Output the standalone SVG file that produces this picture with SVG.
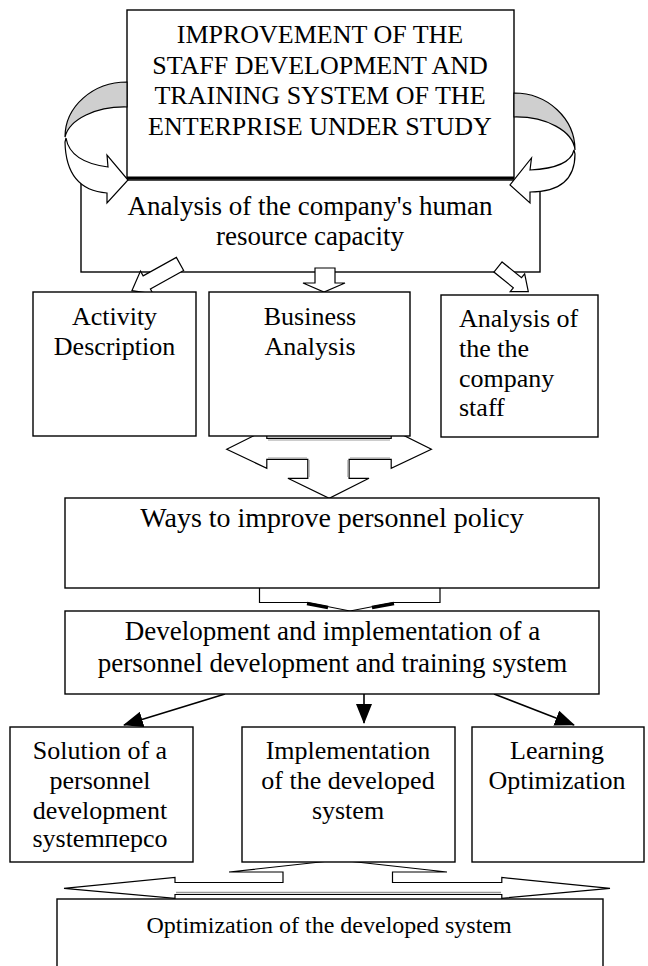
<svg xmlns="http://www.w3.org/2000/svg" width="648" height="966" viewBox="0 0 648 966">
<defs>
<style>
.box{fill:#fff;stroke:#000;stroke-width:1.4}
.t{font-family:"Liberation Serif","Times New Roman",serif;fill:#000;text-anchor:middle}
.tl{font-family:"Liberation Serif","Times New Roman",serif;fill:#000;text-anchor:start}
.blk{fill:#fff;stroke:#000;stroke-width:1.2;stroke-linejoin:miter}
.gray{fill:#cfcfcf;stroke:#000;stroke-width:1.2}
.ln{stroke:#000;stroke-width:1.6;fill:none}
</style>
<marker id="ahb" viewBox="0 0 20 16" refX="19" refY="8" markerWidth="20" markerHeight="16" markerUnits="userSpaceOnUse" orient="auto">
<path d="M0,0 L20,8 L0,16 Z" fill="#000"/>
</marker>
</defs>

<g id="analysis">
<rect class="box" x="81" y="180" width="459" height="92"/>
<text class="t" font-size="27" x="310" y="215">Analysis of the company's human</text>
<text class="t" font-size="27" x="310" y="245">resource capacity</text>
</g>

<g id="top">
<rect class="box" x="127" y="10" width="387" height="168"/>
<line x1="127" y1="178" x2="514" y2="178" stroke="#000" stroke-width="3"/>
<text class="t" font-size="26" x="320" y="43">IMPROVEMENT OF THE</text>
<text class="t" font-size="26" x="320" y="74">STAFF DEVELOPMENT AND</text>
<text class="t" font-size="26" x="320" y="104">TRAINING SYSTEM OF THE</text>
<text class="t" font-size="26" x="320" y="135">ENTERPRISE UNDER STUDY</text>
</g>

<g id="connectors">
<!-- left curved arrow -->
<path class="gray" d="M127,82 A62,55 0 0 0 65,137 A60,35 0 0 1 127,107 Z"/>
<path class="blk" d="M66,138 Q70,162 108,167 L107,155 L128,180 L107,203 L107,193 Q66,190 65,142 Z"/>
<!-- right curved arrow -->
<path class="gray" d="M514,93 A61,57 0 0 1 575,150 A59,35 0 0 0 514,117 Z"/>
<path class="blk" d="M574,150 Q570,168 530,170 L531.5,158 L510,185 L530,203 L530,192 Q575,192 575,154 Z"/>

<!-- analysis to row 1 block arrows -->
<g transform="translate(180,264) rotate(151)">
<path class="blk" d="M0,-7.5 L38,-7.5 L38,-13 L55,0 L38,13 L38,7.5 L0,7.5 Z"/>
</g>
<path class="blk" d="M315,268 L335,268 L335,283 L345,283 L324,292 L303,283 L315,283 Z"/>
<g transform="translate(498,267) rotate(39)">
<path class="blk" d="M0,-6.5 L25,-6.5 L25,-11.5 L39,0 L25,11.5 L25,6.5 L0,6.5 Z"/>
</g>

<!-- row 1 to ways compound arrow -->
<path class="blk" d="M226.7,449.3 L266.8,429.3 L266.8,438.3 L391.2,438.3 L391.2,429.3 L431.4,449.3 L391.2,468.3 L391.2,459.3 L349.1,459.3 L349.1,478.3 L369,478.3 L329.2,498.3 L287.9,478.3 L307.8,478.3 L307.8,459.3 L266.8,459.3 L266.8,468.3 Z"/>
<path d="M268,440 L390,440 M268,458 L307,458 M350,458 L390,458 M309,460 L309,477 M348,460 L348,477" stroke="#999" stroke-width="1.2" fill="none"/>

<!-- ways to development arrow -->
<path class="blk" d="M259.5,587 L259.5,602.5 L307,602.5 L350,611 L394,602.5 L440,602.5 L440,587"/>
<path d="M307,603.5 L328,607.5 M372,607.5 L394,603.5" stroke="#000" stroke-width="3.5" fill="none"/>

<!-- development to row 2 arrows -->
<line class="ln" x1="225" y1="694" x2="124" y2="725" marker-end="url(#ahb)"/>
<line class="ln" x1="364" y1="694" x2="364" y2="723" marker-end="url(#ahb)"/>
<line class="ln" x1="494" y1="694" x2="574" y2="725" marker-end="url(#ahb)"/>

<!-- bottom compound arrow -->
<path class="blk" d="M338.5,860 L447,872 L392.5,872 L392.5,882.5 L501.8,882.5 L501.8,877.5 L610,888.3 L501.8,898.3 L501.8,894.5 L175,894.5 L175,898.3 L64,888.3 L175,877.5 L175,882.5 L283,882.5 L283,872 L229,872 Z"/>
<line x1="176" y1="892.5" x2="501" y2="892.5" stroke="#999" stroke-width="1.5"/>
</g>

<g id="activity">
<rect class="box" x="33" y="292" width="163" height="144"/>
<text class="t" font-size="26" x="114.5" y="325">Activity</text>
<text class="t" font-size="26" x="114.5" y="355">Description</text>
</g>
<g id="business">
<rect class="box" x="209" y="292" width="201" height="144"/>
<text class="t" font-size="26" x="310" y="325">Business</text>
<text class="t" font-size="26" x="310" y="355">Analysis</text>
</g>
<g id="staff">
<rect class="box" x="441" y="295" width="157" height="142"/>
<text class="tl" font-size="26" x="459" y="327">Analysis of</text>
<text class="tl" font-size="26" x="459" y="357">the the</text>
<text class="tl" font-size="26" x="459" y="387">company</text>
<text class="tl" font-size="26" x="459" y="416">staff</text>
</g>

<g id="ways">
<rect class="box" x="65" y="498" width="534" height="90"/>
<text class="t" font-size="28" x="332" y="527">Ways to improve personnel policy</text>
</g>

<g id="development">
<rect class="box" x="65" y="611" width="534" height="83"/>
<text class="t" font-size="27" x="332.5" y="640">Development and implementation of a</text>
<text class="t" font-size="27" x="332.5" y="672">personnel development and training system</text>
</g>

<g id="solution">
<rect class="box" x="10" y="727" width="183" height="135"/>
<text class="t" font-size="26" x="100" y="759">Solution of a</text>
<text class="t" font-size="26" x="100" y="789">personnel</text>
<text class="t" font-size="26" x="100" y="819">development</text>
<text class="t" font-size="26" x="100" y="847">systemперсо</text>
</g>
<g id="implementation">
<rect class="box" x="242" y="727" width="213" height="135"/>
<text class="t" font-size="26" x="348" y="759">Implementation</text>
<text class="t" font-size="26" x="348" y="789">of the developed</text>
<text class="t" font-size="26" x="348" y="819">system</text>
</g>
<g id="learning">
<rect class="box" x="472" y="727" width="172" height="135"/>
<text class="t" font-size="26" x="557" y="759">Learning</text>
<text class="t" font-size="26" x="557" y="789">Optimization</text>
</g>

<g id="optimization">
<rect class="box" x="57" y="899" width="546" height="90"/>
<text class="t" font-size="24" x="329" y="933">Optimization  of the developed system</text>
</g>
</svg>
